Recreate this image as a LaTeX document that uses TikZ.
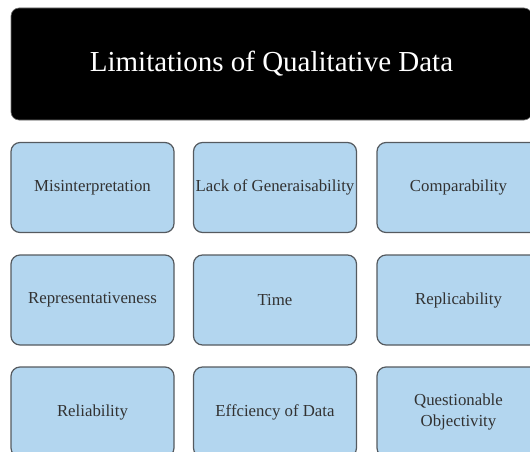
\documentclass[tikz,border=0pt]{standalone}
\usepackage{fontspec}
\setmainfont{Liberation Serif}
\definecolor{boxblue}{RGB}{179,214,239}
\definecolor{boxline}{RGB}{85,90,95}
\definecolor{textgray}{RGB}{50,50,50}

\begin{document}
\begin{tikzpicture}[
    x=1pt, y=-1pt,
    title/.style={rectangle,rounded corners=8pt,fill=black,draw=black!55,line width=0.6pt,
        text=white,font=\fontsize{29}{32}\selectfont,
        minimum width=521pt,minimum height=112pt,inner sep=0pt},
    item/.style={rectangle,rounded corners=9pt,fill=boxblue,draw=boxline,line width=1.2pt,
        text=textgray,font=\fontsize{16.8}{21}\selectfont,align=center,
        minimum width=163pt,minimum height=90pt,inner sep=0pt}
]
    \useasboundingbox (0,0) rectangle (530,452);
    \clip (0,0) rectangle (530,452);

    % Heading bar
    \node[title] (head) at (271.5,64) {Limitations of Qualitative Data};

    % First row
    \node[item] (misinterp) at (92.5,187.5) {Misinterpretation};
    \node[item] (general)   at (275,187.5)  {Lack of Generaisability};
    \node[item] (compare)   at (458.5,187.5) {Comparability};

    % Second row
    \node[item] (represent) at (92.5,300) {Representativeness};
    \node[item] (time)      at (275,300)  {Time};
    \node[item] (replic)    at (458.5,300) {Replicability};

    % Third row
    \node[item] (reliab)    at (92.5,412) {Reliability};
    \node[item] (effic)     at (275,412)  {Effciency of Data};
    \node[item] (object)    at (458.5,412) {Questionable\\Objectivity};
\end{tikzpicture}
\end{document}
